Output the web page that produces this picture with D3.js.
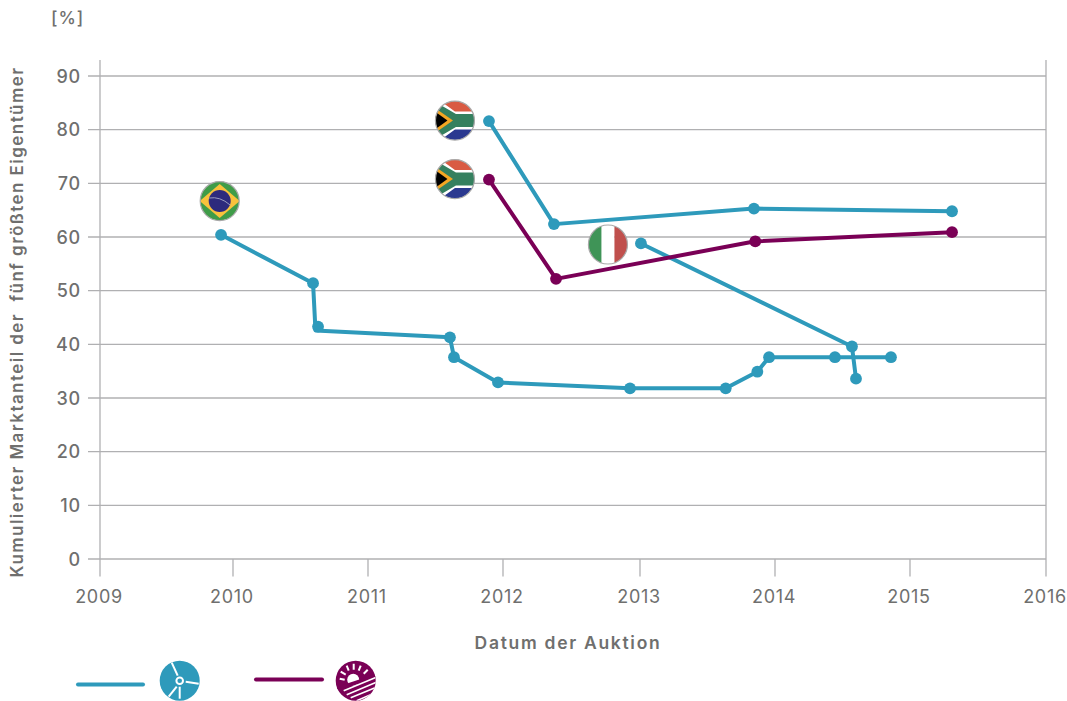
<!DOCTYPE html>
<html><head><meta charset="utf-8">
<script src="https://cdn.jsdelivr.net/npm/d3@7"></script>
<style>html,body{margin:0;background:#fff}svg{display:block}text{font-family:Inter,Lato,sans-serif;fill:#6f6f6e}</style>
</head><body><svg id="c" width="1067" height="701"></svg>
<script>
const yearTicks=[2009,2010,2011,2012,2013,2014,2015,2016];
const shareTicks=[0,10,20,30,40,50,60,70,80,90];
const brazilWindX=[2009.91,2010.593,2010.611,2011.607,2011.637,2011.963,2012.927,2013.635,2013.869,2013.956,2014.444,2014.859];
const brazilWindY=[60.4,51.4,42.6,41.3,37.6,32.9,31.8,31.8,34.9,37.6,37.6,37.6];
const brazilWindDots=[2009.91,2010.593,2010.63,2011.607,2011.637,2011.963,2012.927,2013.635,2013.869,2013.956,2014.444,2014.859];
const brazilWindDotsY=[60.4,51.4,43.3,41.3,37.6,32.9,31.8,31.8,34.9,37.6,37.6,37.6];
const italyWindX=[2013.007,2014.57,2014.6];
const italyWindY=[58.8,39.6,33.6];
const saWindX=[2011.896,2012.372,2013.844,2015.309];
const saWindY=[81.6,62.4,65.3,64.8];
const saSolarX=[2011.896,2012.387,2013.854,2015.309];
const saSolarY=[70.7,52.2,59.2,60.9];
const WIND="#2e9abb",SOLAR="#7a0056",GRID="#b0b0b2";

const svg=d3.select("#c");
const x=d3.scaleLinear().domain(yearTicks).range([100,233,368,503,640,775,910,1046]);
const y=d3.scaleLinear().domain([0,90]).range([559,76]);
const defs=svg.append("defs");

svg.append("g").selectAll("line").data(shareTicks).join("line")
 .attr("x1",88).attr("x2",1046).attr("y1",d=>y(d)).attr("y2",d=>y(d))
 .attr("stroke",GRID).attr("stroke-width",1.3);
svg.append("g").selectAll("line").data([2009,2016]).join("line")
 .attr("x1",d=>x(d)).attr("x2",d=>x(d)).attr("y1",60).attr("y2",y(0))
 .attr("stroke",GRID).attr("stroke-width",1.3);
svg.append("g").selectAll("line").data(yearTicks).join("line")
 .attr("x1",d=>x(d)).attr("x2",d=>x(d)).attr("y1",y(0)).attr("y2",576.5)
 .attr("stroke",GRID).attr("stroke-width",1.3);
svg.append("g").selectAll("text").data(shareTicks).join("text")
 .attr("x",81).attr("y",d=>y(d)+6.5).attr("text-anchor","end").attr("font-size",18).attr("font-weight",500).attr("letter-spacing",0.8).text(d=>d);
svg.append("g").selectAll("text").data(yearTicks).join("text")
 .attr("x",d=>x(d)-1).attr("y",603).attr("text-anchor","middle").attr("font-size",18).attr("letter-spacing",0.7).attr("font-weight",400).text(d=>d);
svg.append("text").attr("x",51).attr("y",24).attr("font-size",17.5).attr("font-weight",500).attr("letter-spacing",1).text("[%]");
svg.append("text").attr("x",568).attr("y",649).attr("text-anchor","middle").attr("font-size",17.5).attr("font-weight",600).attr("letter-spacing",1.7).text("Datum der Auktion");
svg.append("text").attr("transform","translate(23,322) rotate(-90)").attr("text-anchor","middle").attr("font-size",17).attr("font-weight",600).attr("letter-spacing",1.45).attr("xml:space","preserve").text("Kumulierter Marktanteil der  fünf größten Eigentümer");

const line=d3.line().x(d=>x(d[0])).y(d=>y(d[1]));
function series(xs,ys,col,dx,dy){
  svg.append("path").attr("d",line(d3.zip(xs,ys))).attr("fill","none").attr("stroke",col).attr("stroke-width",4).attr("stroke-linejoin","round");
  svg.append("g").selectAll("circle").data(d3.zip(dx||xs,dy||ys)).join("circle")
    .attr("cx",d=>x(d[0])).attr("cy",d=>y(d[1])).attr("r",5.9).attr("fill",col);
}
series(brazilWindX,brazilWindY,WIND,brazilWindDots,brazilWindDotsY);
series(italyWindX,italyWindY,WIND);
series(saWindX,saWindY,WIND);
series(saSolarX,saSolarY,SOLAR);

let fid=0;
function badge(yr,val,draw){
  const id="f"+(fid++);
  defs.append("clipPath").attr("id",id).append("circle").attr("r",19.5);
  const g=svg.append("g").attr("transform",`translate(${x(yr)},${y(val)})`);
  const inner=g.append("g").attr("clip-path",`url(#${id})`);
  draw(inner);
  g.append("circle").attr("r",19.5).attr("fill","none").attr("stroke","#a9a9a9").attr("stroke-width",1.2);
}
function southAfrica(g){
  g.append("rect").attr("x",-20).attr("y",-20).attr("width",40).attr("height",20).attr("fill","#d95b43");
  g.append("rect").attr("x",-20).attr("y",0).attr("width",40).attr("height",20).attr("fill","#2b3990");
  g.append("path").attr("d","M-22,-25L0,-9H22V9H0L-22,25Z").attr("fill","#fff");
  g.append("path").attr("d","M-22,-20L1,-6.5H22V6.5H1L-22,20Z").attr("fill","#35805f");
  g.append("path").attr("d","M-22,-14L-2,0L-22,14Z").attr("fill","#f5a623");
  g.append("path").attr("d","M-22,-10.5L-7.5,0L-22,10.5Z").attr("fill","#000");
}
function italy(g){
  g.append("rect").attr("x",-20).attr("y",-20).attr("width",14).attr("height",40).attr("fill","#3f9457");
  g.append("rect").attr("x",-6.5).attr("y",-20).attr("width",13).attr("height",40).attr("fill","#fff");
  g.append("rect").attr("x",6.5).attr("y",-20).attr("width",14).attr("height",40).attr("fill","#c0504d");
}
function brazil(g){
  g.append("rect").attr("x",-20).attr("y",-20).attr("width",40).attr("height",40).attr("fill","#3f9c48");
  g.append("path").attr("d","M0,-17L20,0L0,17L-20,0Z").attr("fill","#f9c23c");
  g.append("circle").attr("r",11).attr("fill","#2d2a7d");
  g.append("path").attr("d","M-10.5,-3Q0,-5 10.5,4").attr("fill","none").attr("stroke","#9a9cc0").attr("stroke-width",1);
}
badge(2009.9,66.7,brazil);
badge(2011.644,81.7,southAfrica);
badge(2011.644,70.8,southAfrica);
badge(2012.766,58.6,italy);

function legendLine(x1,x2,yy,col){svg.append("line").attr("x1",x1).attr("x2",x2).attr("y1",yy).attr("y2",yy).attr("stroke",col).attr("stroke-width",4).attr("stroke-linecap","round");}
legendLine(78,143,684.5,WIND);
legendLine(256,322,679.5,SOLAR);
const w=svg.append("g").attr("transform","translate(179.7,680.7)");
w.append("circle").attr("r",20).attr("fill",WIND);
w.append("g").attr("stroke","#fff").attr("stroke-width",2).selectAll("line").data([[-2,-5,-8,-18],[6,1,19,3],[-3,6,-11,16],[0,6,0,18]]).join("line")
 .attr("x1",d=>d[0]).attr("y1",d=>d[1]).attr("x2",d=>d[2]).attr("y2",d=>d[3]);
w.append("circle").attr("r",3.3).attr("fill",WIND).attr("stroke","#fff").attr("stroke-width",2);
const s=svg.append("g").attr("transform","translate(355.7,680.7)");
defs.append("clipPath").attr("id","sc").append("circle").attr("r",20);
s.append("circle").attr("r",20).attr("fill",SOLAR);
const si=s.append("g").attr("clip-path","url(#sc)");
si.append("circle").attr("cx",-2.5).attr("cy",-1).attr("r",6).attr("fill","#fff");
si.append("g").attr("stroke","#fff").attr("stroke-width",2).selectAll("line").data([[-16,-2,-11,-1],[-15,-9,-10,-6],[-9,-15,-7,-10],[-2,-17,-2,-11],[5,-15,3,-10],[12,-11,8,-7]]).join("line")
 .attr("x1",d=>d[0]).attr("y1",d=>d[1]).attr("x2",d=>d[2]).attr("y2",d=>d[3]);
si.append("rect").attr("x",-22).attr("y",0).attr("width",44).attr("height",4).attr("fill",SOLAR).attr("transform","rotate(-18)");
si.append("g").attr("stroke","#fff").attr("stroke-width",1.6).selectAll("line").data([[-12,10,22,-4],[-9,14,22,1],[-5,17,22,6],[1,20,22,11]]).join("line")
 .attr("x1",d=>d[0]).attr("y1",d=>d[1]).attr("x2",d=>d[2]).attr("y2",d=>d[3]);
</script></body></html>
